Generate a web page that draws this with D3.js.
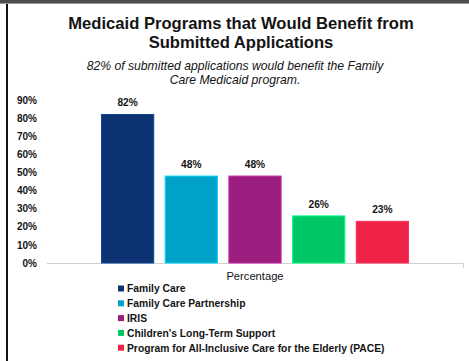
<!DOCTYPE html>
<html><head><meta charset="utf-8">
<script src="https://cdn.jsdelivr.net/npm/d3@7"></script>
<style>body{margin:0;background:#fff}svg{display:block}</style>
</head><body>
<script>
const categories = ["Percentage"];
const series = ["Family Care","Family Care Partnership","IRIS","Children's Long-Term Support","Program for All-Inclusive Care for the Elderly (PACE)"];
const values = [82, 48, 48, 26, 23];
const colors = ["#0c3372","#00a2c9","#9b1d7e","#00c765","#ef2346"];
const yTicks = [0,10,20,30,40,50,60,70,80,90];
const titleLines = ["Medicaid Programs that Would Benefit from","Submitted Applications"];
const subtitleLines = ["82% of submitted applications would benefit the Family","Care Medicaid program."];

const W = 469, H = 361;
const svg = d3.select("body").append("svg").attr("width", W).attr("height", H);
const font = "Arial, 'Liberation Sans', sans-serif";
const ink = "#141414";

// frame
svg.append("rect").attr("x",0).attr("y",0).attr("width",W).attr("height",3).attr("fill","#4d4d4d");
svg.append("rect").attr("x",0).attr("y",3).attr("width",W).attr("height",1).attr("fill","#9a9a9a");
svg.append("rect").attr("x",6).attr("y",4).attr("width",2).attr("height",H-4).attr("fill","#111");

// titles
svg.selectAll(".t").data(titleLines).join("text")
  .attr("x",241).attr("y",(d,i)=>29+i*19).attr("text-anchor","middle")
  .attr("font-family",font).attr("font-weight","bold").attr("font-size",16.6).attr("fill",ink).text(d=>d);
svg.selectAll(".s").data(subtitleLines).join("text")
  .attr("x",235).attr("y",(d,i)=>70+i*14).attr("text-anchor","middle")
  .attr("font-family",font).attr("font-style","italic").attr("font-size",12.2).attr("fill",ink).text(d=>d);

const y = d3.scaleLinear().domain([0,90]).range([263,100]);
const x0 = d3.scaleBand().domain(categories).range([47,463]).paddingOuter(0.1775).paddingInner(0);
const x1 = d3.scaleBand().domain(series).range([0,x0.bandwidth()]).paddingInner(0.18).paddingOuter(0);

// y axis
const yAxis = svg.append("g").attr("transform","translate(37,0)")
  .call(d3.axisLeft(y).tickValues(yTicks).tickFormat(d=>d+"%").tickSize(0).tickPadding(0));
yAxis.select(".domain").remove();
yAxis.selectAll("text").attr("font-family",font).attr("font-weight","bold").attr("font-size",10).attr("fill",ink);

// x axis line
const xAxis = svg.append("g").attr("transform","translate(0,263)")
  .call(d3.axisBottom(x0).tickSize(0).tickFormat(""));
xAxis.select(".domain").attr("stroke","#d0d0d0").attr("d","M47,0.5H463.5V5");

// bars
const g = svg.append("g").attr("transform",`translate(${x0(categories[0])},0)`);
g.selectAll("rect").data(values).join("rect")
  .attr("x",(d,i)=>x1(series[i])).attr("width",x1.bandwidth())
  .attr("y",d=>y(d)).attr("height",d=>y(0)-y(d))
  .attr("fill",(d,i)=>colors[i])
  .attr("stroke",(d,i)=>d3.color(colors[i]).brighter(0.8)).attr("stroke-width",1);
g.selectAll("text").data(values).join("text")
  .attr("x",(d,i)=>x1(series[i])+x1.bandwidth()/2).attr("y",d=>y(d)-8)
  .attr("text-anchor","middle").attr("font-family",font).attr("font-weight","bold")
  .attr("font-size",10.2).attr("fill",ink).text(d=>d+"%");

// category label
svg.append("text").attr("x",x0(categories[0])+x0.bandwidth()/2).attr("y",280).attr("text-anchor","middle")
  .attr("font-family",font).attr("font-size",11.2).attr("fill",ink).text(categories[0]);

// legend
const lg = svg.append("g");
const row = lg.selectAll("g").data(series).join("g").attr("transform",(d,i)=>`translate(118,${288.5+i*14.8})`);
row.append("rect").attr("x",0).attr("y",-3).attr("width",6).attr("height",6).attr("fill",(d,i)=>colors[i]);
row.append("text").attr("x",9).attr("y",3.8).attr("font-family",font).attr("font-weight","bold")
  .attr("font-size",10.3).attr("fill",ink).text(d=>d);
</script>
</body></html>
